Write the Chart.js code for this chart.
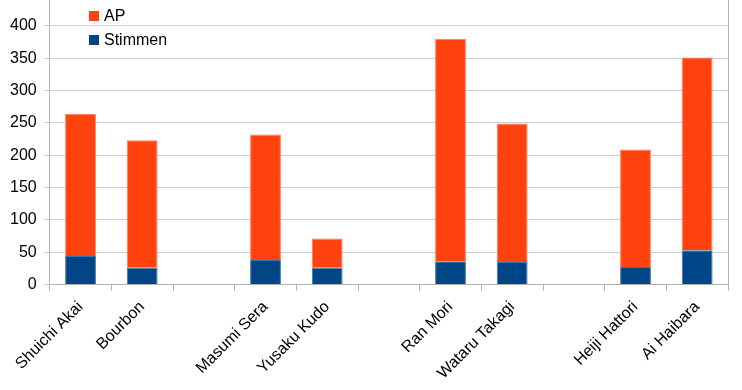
<!DOCTYPE html>
<html>
<head>
<meta charset="utf-8">
<script src="https://cdn.jsdelivr.net/npm/chart.js@4"></script>
<style>
body { margin: 0; background: #fff; }
#wrap { position: relative; width: 742px; height: 390px; }
.leg { position: absolute; left: 89px; font: 16px "Liberation Sans", Arial, sans-serif; color: #000; line-height: 18px; }
.leg span { display: inline-block; width: 10px; height: 10px; margin-right: 5px; vertical-align: 0px; }
</style>
</head>
<body>
<div id="wrap">
  <canvas id="chart" width="742" height="390"></canvas>
</div>
<script>
var names = ['Shuichi Akai', 'Bourbon', '', 'Masumi Sera', 'Yusaku Kudo', '', 'Ran Mori', 'Wataru Takagi', '', 'Heiji Hattori', 'Ai Haibara'];
var stimmen = [44, 26, null, 38, 26, null, 36, 35, null, 27, 53];
var ap = [220, 197, null, 194, 45, null, 344, 214, null, 182, 298];
var yTicks = [0, 50, 100, 150, 200, 250, 300, 350, 400];

var gridGrey = '#cfcfcf';
var axisGrey = '#b3b3b3';
Chart.defaults.font.family = '"Liberation Sans", Arial, sans-serif';
Chart.defaults.font.size = 16;
Chart.defaults.color = '#000';

// legend drawn as html, top-left inside the plot
var legendItems = [['AP', '#ff420e'], ['Stimmen', '#004586']];
legendItems.forEach(function (it, i) {
  var d = document.createElement('div');
  d.className = 'leg';
  d.style.top = (7 + i * 24) + 'px';
  d.innerHTML = '<span style="background:' + it[1] + '"></span>' + it[0];
  document.getElementById('wrap').appendChild(d);
});

// no extra room reserved for the outer tick labels
function noPad(scale) {
  scale.paddingTop = 0;
  scale.paddingBottom = 0;
  scale.paddingLeft = 0;
  scale.paddingRight = 0;
}

var ctx = document.getElementById('chart');
new Chart(ctx, {
  type: 'bar',
  data: {
    labels: names,
    datasets: [{
      label: 'Stimmen',
      data: stimmen,
      backgroundColor: '#004586',
      borderColor: '#3f74a6',
      borderWidth: 1
    }, {
      label: 'AP',
      data: ap,
      backgroundColor: '#ff420e',
      borderColor: '#ff7a5c',
      borderWidth: 1
    }]
  },
  options: {
    responsive: false,
    animation: false,
    devicePixelRatio: 1,
    categoryPercentage: 1,
    barPercentage: 0.5,
    layout: { padding: { left: 3, right: 6, top: 0, bottom: 0 } },
    plugins: { legend: { display: false }, tooltip: { enabled: false } },
    scales: {
      x: {
        stacked: true,
        afterFit: noPad,
        grid: { offset: true, drawOnChartArea: false, tickLength: 6, color: axisGrey },
        border: { color: axisGrey },
        ticks: { minRotation: 45, maxRotation: 45, autoSkip: false, padding: 7 }
      },
      y: {
        stacked: true,
        min: 0,
        max: 440,
        afterFit: noPad,
        afterBuildTicks: function (scale) {
          scale.ticks = yTicks.map(function (v) { return { value: v }; });
        },
        grid: { color: gridGrey, tickLength: 6 },
        border: { color: axisGrey },
        ticks: { padding: 7 }
      },
      y2: {
        position: 'right',
        display: true,
        afterFit: noPad,
        grid: { display: false },
        ticks: { display: false },
        border: { color: axisGrey }
      }
    }
  }
});
</script>
</body>
</html>
